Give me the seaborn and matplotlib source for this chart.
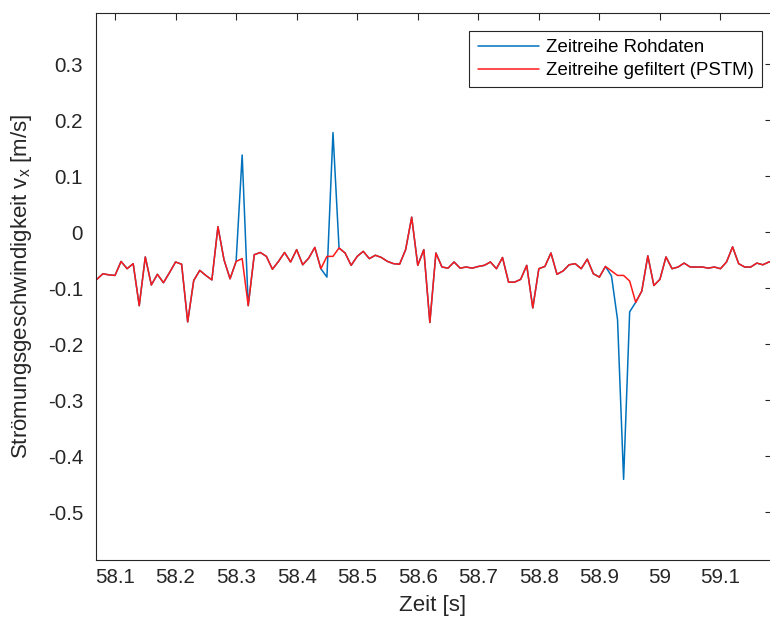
import numpy as np
import pandas as pd
import matplotlib
matplotlib.use("Agg")
import matplotlib.pyplot as plt
import seaborn as sns

# Sampling grid of the velocity probe (100 Hz)
t_start = 58.07
t_step = 0.01

# Raw velocity time series v_x [m/s]
v_raw = [
    -0.084, -0.074, -0.076, -0.077, -0.052, -0.065, -0.056, -0.131, -0.044, -0.094,
    -0.075, -0.090, -0.072, -0.053, -0.057, -0.160, -0.086, -0.068, -0.077, -0.085,
    0.010, -0.049, -0.083, -0.052, 0.138, -0.131, -0.040, -0.036, -0.043, -0.066,
    -0.052, -0.036, -0.053, -0.031, -0.058, -0.046, -0.027, -0.065, -0.080, 0.178,
    -0.028, -0.037, -0.059, -0.043, -0.034, -0.047, -0.041, -0.045, -0.052, -0.056,
    -0.057, -0.031, 0.027, -0.059, -0.031, -0.161, -0.037, -0.062, -0.064, -0.053,
    -0.064, -0.062, -0.064, -0.061, -0.059, -0.053, -0.065, -0.045, -0.089, -0.089,
    -0.084, -0.059, -0.135, -0.065, -0.061, -0.037, -0.075, -0.069, -0.058, -0.056,
    -0.065, -0.048, -0.074, -0.080, -0.061, -0.078, -0.156, -0.441, -0.142, -0.125,
    -0.105, -0.042, -0.095, -0.084, -0.044, -0.065, -0.062, -0.055, -0.062, -0.062,
    -0.062, -0.064, -0.062, -0.065, -0.053, -0.026, -0.056, -0.062, -0.062, -0.055,
    -0.058, -0.053, -0.052,
]

# Same series after PSTM spike filtering
v_filtered = [
    -0.084, -0.074, -0.076, -0.077, -0.052, -0.065, -0.056, -0.131, -0.044, -0.094,
    -0.075, -0.090, -0.072, -0.053, -0.057, -0.160, -0.086, -0.068, -0.077, -0.085,
    0.010, -0.049, -0.083, -0.052, -0.047, -0.131, -0.040, -0.036, -0.043, -0.066,
    -0.052, -0.036, -0.053, -0.031, -0.058, -0.046, -0.027, -0.065, -0.043, -0.043,
    -0.028, -0.037, -0.059, -0.043, -0.034, -0.047, -0.041, -0.045, -0.052, -0.056,
    -0.057, -0.031, 0.027, -0.059, -0.031, -0.161, -0.037, -0.062, -0.064, -0.053,
    -0.064, -0.062, -0.064, -0.061, -0.059, -0.053, -0.065, -0.045, -0.089, -0.089,
    -0.084, -0.059, -0.135, -0.065, -0.061, -0.037, -0.075, -0.069, -0.058, -0.056,
    -0.065, -0.048, -0.074, -0.080, -0.061, -0.069, -0.077, -0.077, -0.087, -0.125,
    -0.105, -0.042, -0.095, -0.084, -0.044, -0.065, -0.062, -0.055, -0.062, -0.062,
    -0.062, -0.064, -0.062, -0.065, -0.053, -0.026, -0.056, -0.062, -0.062, -0.055,
    -0.058, -0.053, -0.052,
]

series_names = ["Zeitreihe Rohdaten", "Zeitreihe gefiltert (PSTM)"]
series_colors = ["#0072BD", "#FF1A1A"]

x_ticks = [58.1, 58.2, 58.3, 58.4, 58.5, 58.6, 58.7, 58.8, 58.9, 59.0, 59.1]
x_tick_labels = ["58.1", "58.2", "58.3", "58.4", "58.5", "58.6", "58.7", "58.8",
                 "58.9", "59", "59.1"]
y_ticks = [-0.5, -0.4, -0.3, -0.2, -0.1, 0.0, 0.1, 0.2, 0.3]
y_tick_labels = ["-0.5", "-0.4", "-0.3", "-0.2", "-0.1", "0", "0.1", "0.2", "0.3"]

sns.set_style("white")
plt.rcParams["font.family"] = ["Liberation Sans", "DejaVu Sans"]
plt.rcParams["axes.unicode_minus"] = False
plt.rcParams["mathtext.fontset"] = "custom"
plt.rcParams["mathtext.rm"] = "Liberation Sans"
plt.rcParams["mathtext.it"] = "Liberation Sans:italic"

W, H = 770, 619
fig = plt.figure(figsize=(W / 100, H / 100), dpi=100)
left_px, right_px, top_px, bottom_px = 95.7, 772.0, 12.7, 560.0
ax = fig.add_axes([left_px / W, 1 - bottom_px / H,
                   (right_px - left_px) / W, (bottom_px - top_px) / H])

n = len(v_filtered)
time = np.round(t_start + t_step * np.arange(n), 2)
df = pd.DataFrame({
    "Zeit": np.concatenate([time, time]),
    "v": v_raw + v_filtered,
    "Reihe": [series_names[0]] * n + [series_names[1]] * n,
})

sns.lineplot(data=df, x="Zeit", y="v", hue="Reihe", hue_order=series_names,
             palette=series_colors, estimator=None, sort=False,
             linewidth=1.1, ax=ax)

ax.set_xlim(58.0681, 59.1851)
ax.set_ylim(-0.585, 0.392)

axis_col = "#262626"
ax.set_xticks(x_ticks)
ax.set_xticklabels(x_tick_labels)
ax.set_yticks(y_ticks)
ax.set_yticklabels(y_tick_labels)
ax.tick_params(axis="both", which="major", direction="in", length=5, width=0.8,
               color=axis_col, labelcolor=axis_col, labelsize=14.8,
               top=True, right=True)
ax.tick_params(axis="y", pad=9)
ax.tick_params(axis="x", pad=6)
for sp in ax.spines.values():
    sp.set_color(axis_col)
    sp.set_linewidth(0.8)

ax.set_xlabel("Zeit [s]", fontsize=16, color=axis_col, va="center")
ax.set_ylabel(r"Strömungsgeschwindigkeit v$_\mathregular{x}$ [m/s]",
              fontsize=16, color=axis_col, va="center")
ax.xaxis.set_label_coords((left_px + 770) / 2 / W, 1 - 605 / H,
                          transform=fig.transFigure)
ax.yaxis.set_label_coords(22 / W, 1 - 286 / H, transform=fig.transFigure)

handles, labels = ax.get_legend_handles_labels()
leg = ax.legend(handles, labels, loc="upper right",
                bbox_to_anchor=(762 / W, 1 - 30.7 / H),
                bbox_transform=fig.transFigure, borderaxespad=0,
                fontsize=13.4, frameon=True, fancybox=False, framealpha=1,
                edgecolor=axis_col, handlelength=3.3, handletextpad=0.35,
                borderpad=0.45, labelspacing=0.32)
leg.get_frame().set_linewidth(0.8)
for txt in leg.get_texts():
    txt.set_color("black")

fig.savefig("out.png", dpi=100)
